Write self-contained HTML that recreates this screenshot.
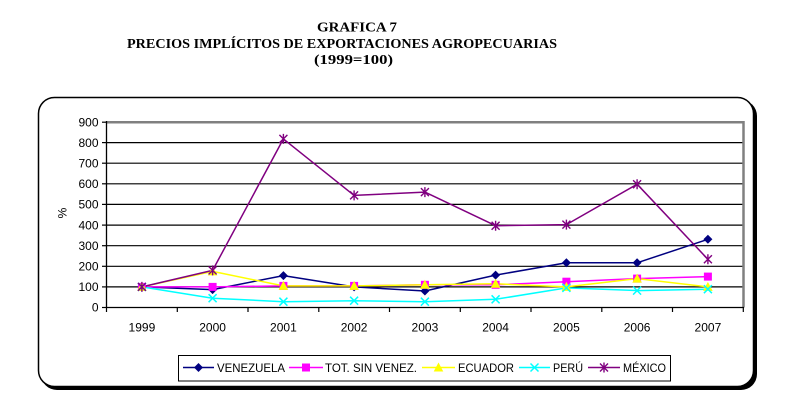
<!DOCTYPE html>
<html>
<head>
<meta charset="utf-8">
<style>
html,body{margin:0;padding:0;background:#fff;}
svg{display:block;}
</style>
</head>
<body>
<svg width="797" height="408" viewBox="0 0 797 408" xmlns="http://www.w3.org/2000/svg">
<defs>
<g id="dia"><path d="M0,-4.5 L4.5,0 L0,4.5 L-4.5,0 Z" fill="#000080"/></g>
<g id="sq"><rect x="-4" y="-4" width="8" height="8" fill="#FF00FF"/></g>
<g id="tri"><path d="M0,-5 L4.8,4 L-4.8,4 Z" fill="#FFFF00"/></g>
<g id="xx"><path d="M-4,-4 L4,4 M-4,4 L4,-4" stroke="#00FFFF" stroke-width="1.5" fill="none"/></g>
<g id="ast"><path d="M-4,-4 L4,4 M-4,4 L4,-4 M0,-5 L0,5" stroke="#800080" stroke-width="1.4" fill="none"/></g>
</defs>

<!-- Title -->
<g font-family="Liberation Serif, serif" font-weight="bold" font-size="13.5" fill="#000" text-anchor="middle">
<text x="357" y="31.5" textLength="80" lengthAdjust="spacingAndGlyphs">GRAFICA 7</text>
<text x="342" y="48" textLength="430" lengthAdjust="spacingAndGlyphs">PRECIOS IMPLÍCITOS DE EXPORTACIONES AGROPECUARIAS</text>
<text x="353.5" y="64" textLength="79" lengthAdjust="spacingAndGlyphs">(1999=100)</text>
</g>

<!-- Outer rounded box with shadow -->
<rect x="41" y="100" width="716" height="290" rx="16" ry="16" fill="#000"/>
<rect x="38.5" y="97.5" width="715" height="289" rx="16" ry="16" fill="#fff" stroke="#000" stroke-width="1.5"/>

<!-- Gridlines -->
<g stroke="#000" stroke-width="1.2">
<line x1="106.5" x2="743.5" y1="286.9" y2="286.9"/>
<line x1="106.5" x2="743.5" y1="266.3" y2="266.3"/>
<line x1="106.5" x2="743.5" y1="245.7" y2="245.7"/>
<line x1="106.5" x2="743.5" y1="225.1" y2="225.1"/>
<line x1="106.5" x2="743.5" y1="204.4" y2="204.4"/>
<line x1="106.5" x2="743.5" y1="183.8" y2="183.8"/>
<line x1="106.5" x2="743.5" y1="163.2" y2="163.2"/>
<line x1="106.5" x2="743.5" y1="142.6" y2="142.6"/>
</g>
<!-- gray plot border top/right -->
<path d="M106.5,122.2 L743.5,122.2 L743.5,307.5" fill="none" stroke="#808080" stroke-width="2.5"/>
<!-- axes -->
<line x1="106.5" y1="121" x2="106.5" y2="308" stroke="#000" stroke-width="1.3"/>
<line x1="106" y1="307.5" x2="744" y2="307.5" stroke="#000" stroke-width="1.3"/>
<!-- y ticks -->
<g stroke="#000" stroke-width="1.2">
<line x1="102" x2="106.5" y1="307.5" y2="307.5"/>
<line x1="102" x2="106.5" y1="286.9" y2="286.9"/>
<line x1="102" x2="106.5" y1="266.3" y2="266.3"/>
<line x1="102" x2="106.5" y1="245.7" y2="245.7"/>
<line x1="102" x2="106.5" y1="225.1" y2="225.1"/>
<line x1="102" x2="106.5" y1="204.4" y2="204.4"/>
<line x1="102" x2="106.5" y1="183.8" y2="183.8"/>
<line x1="102" x2="106.5" y1="163.2" y2="163.2"/>
<line x1="102" x2="106.5" y1="142.6" y2="142.6"/>
<line x1="102" x2="106.5" y1="122.2" y2="122.2"/>
</g>
<!-- x ticks -->
<g stroke="#000" stroke-width="1.2">
<line x1="106.5" x2="106.5" y1="307.5" y2="312"/>
<line x1="177.3" x2="177.3" y1="307.5" y2="312"/>
<line x1="248" x2="248" y1="307.5" y2="312"/>
<line x1="318.8" x2="318.8" y1="307.5" y2="312"/>
<line x1="389.5" x2="389.5" y1="307.5" y2="312"/>
<line x1="460.3" x2="460.3" y1="307.5" y2="312"/>
<line x1="531" x2="531" y1="307.5" y2="312"/>
<line x1="601.8" x2="601.8" y1="307.5" y2="312"/>
<line x1="672.5" x2="672.5" y1="307.5" y2="312"/>
<line x1="743.3" x2="743.3" y1="307.5" y2="312"/>
</g>

<!-- y labels -->
<g font-family="Liberation Sans, sans-serif" font-size="12" fill="#000" text-anchor="end">
<text x="98.5" y="311.7">0</text>
<text x="98.5" y="291.1">100</text>
<text x="98.5" y="270.5">200</text>
<text x="98.5" y="249.9">300</text>
<text x="98.5" y="229.3">400</text>
<text x="98.5" y="208.6">500</text>
<text x="98.5" y="188">600</text>
<text x="98.5" y="167.4">700</text>
<text x="98.5" y="146.8">800</text>
<text x="98.5" y="126.4">900</text>
</g>
<text x="0" y="0" transform="translate(66.5,213) rotate(-90)" font-family="Liberation Sans, sans-serif" font-size="12" text-anchor="middle">%</text>

<!-- x labels -->
<g font-family="Liberation Sans, sans-serif" font-size="12" fill="#000" text-anchor="middle">
<text x="141.9" y="331.5">1999</text>
<text x="212.6" y="331.5">2000</text>
<text x="283.4" y="331.5">2001</text>
<text x="354.1" y="331.5">2002</text>
<text x="424.9" y="331.5">2003</text>
<text x="495.6" y="331.5">2004</text>
<text x="566.4" y="331.5">2005</text>
<text x="637.1" y="331.5">2006</text>
<text x="707.9" y="331.5">2007</text>
</g>

<!-- Series -->
<g fill="none" stroke-width="1.5" stroke-linejoin="round">
<polyline stroke="#000080" points="141.9,286.9 212.6,289.6 283.4,275.6 354.1,286.9 424.9,291 495.6,275.1 566.4,262.8 637.1,262.8 707.9,239.3"/>
<polyline stroke="#FF00FF" points="141.9,286.9 212.6,286.9 283.4,285.9 354.1,285.9 424.9,284.8 495.6,284.8 566.4,281.7 637.1,278.6 707.9,276.6"/>
<polyline stroke="#FFFF00" points="141.9,286.9 212.6,271.4 283.4,285.9 354.1,285.9 424.9,284.8 495.6,283.8 566.4,286.9 637.1,278.6 707.9,286.9"/>
<polyline stroke="#00FFFF" points="141.9,286.9 212.6,298.2 283.4,301.7 354.1,300.7 424.9,301.7 495.6,299.3 566.4,287.9 637.1,290.6 707.9,289.2"/>
<polyline stroke="#800080" points="141.9,286.9 212.6,270.4 283.4,138.9 354.1,195.4 424.9,192.1 495.6,225.7 566.4,224.6 637.1,184.2 707.9,259.3"/>
</g>
<!-- markers -->
<use href="#dia" x="141.9" y="286.9"/><use href="#dia" x="212.6" y="289.6"/><use href="#dia" x="283.4" y="275.6"/><use href="#dia" x="354.1" y="286.9"/><use href="#dia" x="424.9" y="291"/><use href="#dia" x="495.6" y="275.1"/><use href="#dia" x="566.4" y="262.8"/><use href="#dia" x="637.1" y="262.8"/><use href="#dia" x="707.9" y="239.3"/>
<use href="#sq" x="141.9" y="286.9"/><use href="#sq" x="212.6" y="286.9"/><use href="#sq" x="283.4" y="285.9"/><use href="#sq" x="354.1" y="285.9"/><use href="#sq" x="424.9" y="284.8"/><use href="#sq" x="495.6" y="284.8"/><use href="#sq" x="566.4" y="281.7"/><use href="#sq" x="637.1" y="278.6"/><use href="#sq" x="707.9" y="276.6"/>
<use href="#tri" x="141.9" y="286.9"/><use href="#tri" x="212.6" y="271.4"/><use href="#tri" x="283.4" y="285.9"/><use href="#tri" x="354.1" y="285.9"/><use href="#tri" x="424.9" y="284.8"/><use href="#tri" x="495.6" y="283.8"/><use href="#tri" x="566.4" y="286.9"/><use href="#tri" x="637.1" y="278.6"/><use href="#tri" x="707.9" y="286.9"/>
<use href="#xx" x="141.9" y="286.9"/><use href="#xx" x="212.6" y="298.2"/><use href="#xx" x="283.4" y="301.7"/><use href="#xx" x="354.1" y="300.7"/><use href="#xx" x="424.9" y="301.7"/><use href="#xx" x="495.6" y="299.3"/><use href="#xx" x="566.4" y="287.9"/><use href="#xx" x="637.1" y="290.6"/><use href="#xx" x="707.9" y="289.2"/>
<use href="#ast" x="141.9" y="286.9"/><use href="#ast" x="212.6" y="270.4"/><use href="#ast" x="283.4" y="138.9"/><use href="#ast" x="354.1" y="195.4"/><use href="#ast" x="424.9" y="192.1"/><use href="#ast" x="495.6" y="225.7"/><use href="#ast" x="566.4" y="224.6"/><use href="#ast" x="637.1" y="184.2"/><use href="#ast" x="707.9" y="259.3"/>

<!-- Legend -->
<rect x="178.5" y="355.5" width="492" height="25.5" fill="#fff" stroke="#000" stroke-width="1"/>
<g stroke-width="1.5">
<line x1="183" x2="214" y1="367.5" y2="367.5" stroke="#000080"/>
<line x1="289" x2="323" y1="367.5" y2="367.5" stroke="#FF00FF"/>
<line x1="422" x2="455" y1="367.5" y2="367.5" stroke="#FFFF00"/>
<line x1="519" x2="550" y1="367.5" y2="367.5" stroke="#00FFFF"/>
<line x1="588" x2="620" y1="367.5" y2="367.5" stroke="#800080"/>
</g>
<use href="#dia" x="198.5" y="367.5"/>
<use href="#sq" x="306" y="367.5"/>
<use href="#tri" x="438.5" y="367.5"/>
<use href="#xx" x="534.5" y="367.5"/>
<use href="#ast" x="604" y="367.5"/>
<g font-family="Liberation Sans, sans-serif" font-size="12" fill="#000">
<text x="217" y="371.8" textLength="68" lengthAdjust="spacingAndGlyphs">VENEZUELA</text>
<text x="325" y="371.8" textLength="92" lengthAdjust="spacingAndGlyphs">TOT. SIN VENEZ.</text>
<text x="458" y="371.8" textLength="56" lengthAdjust="spacingAndGlyphs">ECUADOR</text>
<text x="553" y="371.8" textLength="30" lengthAdjust="spacingAndGlyphs">PERÚ</text>
<text x="623" y="371.8" textLength="43" lengthAdjust="spacingAndGlyphs">MÉXICO</text>
</g>
</svg>
</body>
</html>
